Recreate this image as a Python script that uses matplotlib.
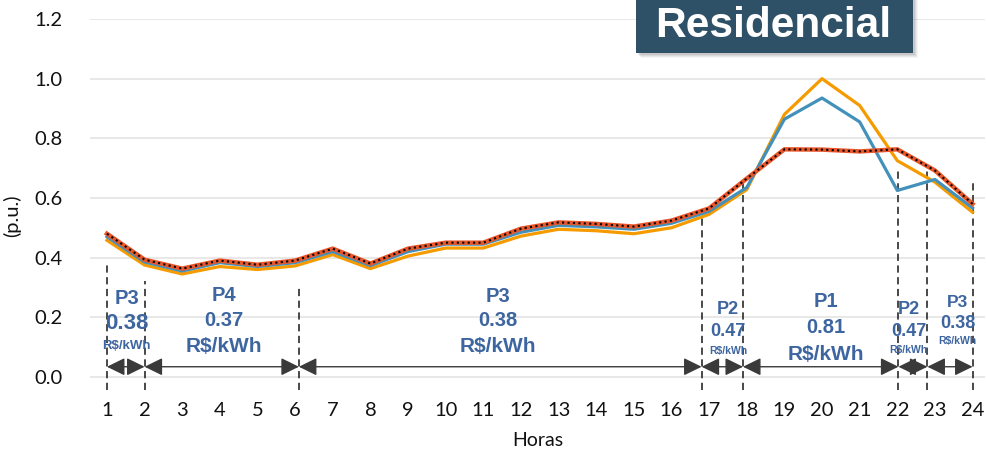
import matplotlib
matplotlib.use("Agg")
import matplotlib.pyplot as plt
from matplotlib.patches import Rectangle, FancyArrowPatch

# Hourly load profiles (p.u.)
hours = list(range(1, 25))
perfil_a = [0.458, 0.375, 0.345, 0.370, 0.360, 0.372, 0.410, 0.363, 0.405, 0.432, 0.432, 0.472,
            0.495, 0.490, 0.480, 0.500, 0.545, 0.628, 0.880, 1.000, 0.910, 0.725, 0.653, 0.552]
perfil_b = [0.470, 0.385, 0.355, 0.383, 0.370, 0.383, 0.420, 0.373, 0.420, 0.445, 0.445, 0.485,
            0.508, 0.503, 0.495, 0.515, 0.555, 0.635, 0.864, 0.935, 0.855, 0.625, 0.662, 0.566]
perfil_c = [0.480, 0.393, 0.363, 0.390, 0.376, 0.390, 0.430, 0.380, 0.430, 0.450, 0.450, 0.497,
            0.518, 0.513, 0.504, 0.524, 0.565, 0.665, 0.763, 0.762, 0.756, 0.763, 0.692, 0.580]

# Tariff periods: boundaries (hours), names and prices
limites = [1, 2, 6.1, 16.8, 17.9, 22.03, 22.8, 24]
postos = ["P3", "P4", "P3", "P2", "P1", "P2", "P3"]
tarifas = ["0.38", "0.37", "0.38", "0.47", "0.81", "0.47", "0.38"]
unidade = "R$/kWh"
topo_tracejado = [0.39, 0.32, 0.30, 0.55, 0.66, 0.70, 0.69, 0.65]

y_ticks = [0.0, 0.2, 0.4, 0.6, 0.8, 1.0, 1.2]

C_ORANGE = "#F59B00"
C_BLUE = "#4391BA"
C_RED = "#E8562A"
C_TEXT = "#3D65A0"
C_DARK = "#3A3A3A"

fig = plt.figure(figsize=(9.87, 4.49), dpi=100)
ax = fig.add_axes([90 / 987, 1 - 390.9 / 449, (985 - 90) / 987, (390.9 - 19) / 449])

ax.plot(hours, perfil_a, color=C_ORANGE, lw=2.3, zorder=3)
ax.plot(hours, perfil_b, color=C_BLUE, lw=2.3, zorder=4)
ax.plot(hours, perfil_c, color=C_RED, lw=3.2, zorder=5)
ax.plot(hours, perfil_c, color="black", lw=1.5, ls=(0, (1, 1.6)), zorder=6)

ax.set_xlim(0.55, 24.33)
ax.set_ylim(-0.047, 1.2)
ax.set_yticks(y_ticks)
ax.set_yticklabels([f"{v:.1f}" for v in y_ticks])
ax.set_xticks(hours)
ax.grid(axis="y", color="#E6E6E6", lw=1.3, zorder=0)
for s in ax.spines.values():
    s.set_visible(False)
ax.tick_params(axis="both", length=0, labelsize=14.5, colors="#111111")
ax.tick_params(axis="y", pad=20)
ax.tick_params(axis="x", pad=8)
for lab in ax.get_xticklabels() + ax.get_yticklabels():
    lab.set_family("Lato")
ax.set_xlabel("Horas", family="Lato", fontsize=14, color="#111111", labelpad=9)
ax.set_ylabel("(p.u.)", family="Lato", fontsize=14.5, color="#111111")
ax.yaxis.set_label_coords(-0.077, 0.47)

# Period boundaries
for xb, yt in zip(limites, topo_tracejado):
    ax.plot([xb, xb], [-0.045, yt], color=C_DARK, lw=1.3, ls=(0, (4, 2.5)), zorder=2,
            clip_on=False)

# Double arrows and tariff labels
y_seta = 0.034
for i in range(len(postos)):
    a, b = limites[i], limites[i + 1]
    arr = FancyArrowPatch((a, y_seta), (b, y_seta),
                          arrowstyle="<|-|>,head_length=0.55,head_width=0.27",
                          mutation_scale=20, shrinkA=0, shrinkB=0,
                          color=C_DARK, lw=1.0, zorder=3)
    ax.add_patch(arr)

label_specs = [
    # x, y(P), y(price), y(unit), size P, size price, size unit
    (1.52, 0.262, 0.178, 0.105, 14.5, 16, 9.5),
    (4.1, 0.272, 0.188, 0.101, 14.5, 14.5, 15),
    (11.4, 0.268, 0.188, 0.101, 14.5, 14.5, 15),
    (17.5, 0.225, 0.152, 0.088, 13, 13, 7.5),
    (20.1, 0.252, 0.166, 0.074, 14.5, 14.5, 15),
    (22.3, 0.225, 0.152, 0.090, 13, 13, 7.5),
    (23.6, 0.250, 0.178, 0.120, 12.5, 13, 7.5),
]
for (xc, yp, yv, yu, sp, sv, su), p, t in zip(label_specs, postos, tarifas):
    kw = dict(ha="center", va="center", color=C_TEXT, fontweight="bold",
              family="Liberation Sans", zorder=7)
    ax.text(xc, yp, p, fontsize=sp, **kw)
    ax.text(xc, yv, t, fontsize=sv, **kw)
    ax.text(xc, yu, unidade, fontsize=su, **kw)

# Title badge with soft shadow
bx, by, bw, bh = 636 / 987, 1 - 53 / 449, 277 / 987, 60 / 449
for k, al in [(5, 0.06), (4, 0.08), (3, 0.10), (2, 0.12)]:
    fig.patches.append(Rectangle((bx + k / 987, by - k / 449), bw, bh,
                                 transform=fig.transFigure, facecolor="#555555",
                                 alpha=al, edgecolor="none", zorder=8))
fig.patches.append(Rectangle((bx, by), bw, bh, transform=fig.transFigure,
                             facecolor="#2F5168", edgecolor="none", zorder=9))
fig.text(773.5 / 987, 1 - 37 / 449, "Residencial", ha="center", va="baseline",
         color="white", fontsize=30.5, fontweight="bold", family="Liberation Sans",
         zorder=10)

fig.savefig("out.png", dpi=100)
